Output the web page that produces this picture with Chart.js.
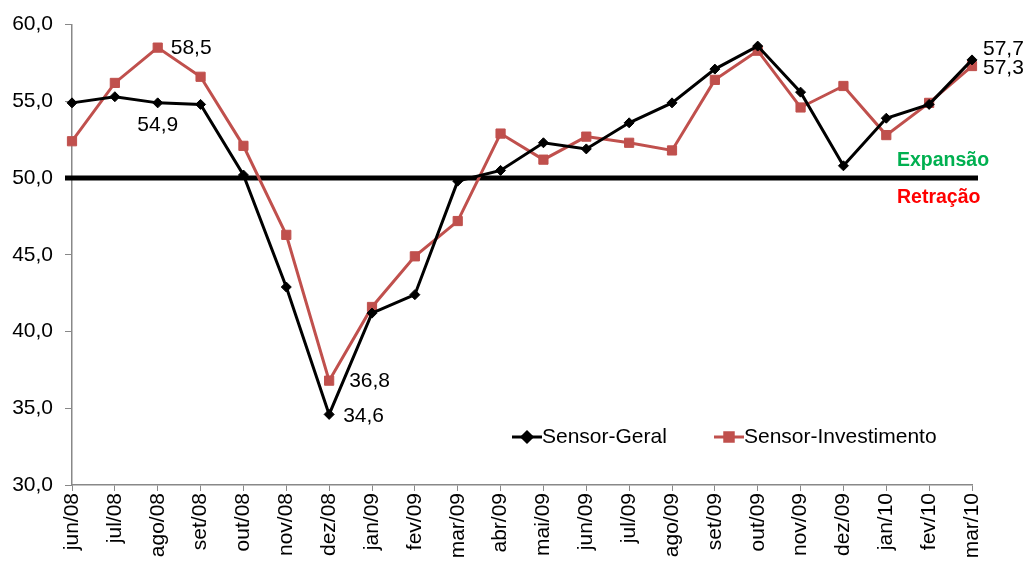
<!DOCTYPE html>
<html>
<head>
<meta charset="utf-8">
<script src="https://cdn.jsdelivr.net/npm/chart.js@4/dist/chart.umd.min.js"></script>
<style>
  body { margin: 0; background: #fff; }
  canvas { display: block; }
</style>
</head>
<body>
<canvas id="sensor" width="1026" height="570"></canvas>
<script>
let meses = ['jun/08','jul/08','ago/08','set/08','out/08','nov/08','dez/08','jan/09','fev/09','mar/09','abr/09',
             'mai/09','jun/09','jul/09','ago/09','set/09','out/09','nov/09','dez/09','jan/10','fev/10','mar/10'];
let sensorGeral = [54.9, 55.3, 54.9, 54.8, 50.2, 42.9, 34.6, 41.2, 42.4, 49.8, 50.5,
                   52.3, 51.9, 53.6, 54.9, 57.1, 58.6, 55.6, 50.8, 53.9, 54.8, 57.7];
let sensorInvest = [52.4, 56.2, 58.5, 56.6, 52.1, 46.3, 36.8, 41.6, 44.9, 47.2, 52.9,
                    51.2, 52.7, 52.3, 51.8, 56.4, 58.3, 54.6, 56.0, 52.8, 54.9, 57.3];
let yTicks = [30, 35, 40, 45, 50, 55, 60];
let limite = 50;

let fonte = '"Liberation Sans", Arial, sans-serif';
let preto = '#000000';
let vermelho = '#c0504d';

function fmt(v){
    return v.toFixed(1).replace('.', ',');
}

// rotulos de valores: [dataset, indice, alinhamento, dx, dy]
let rotulos = [
    [1, 2, 'left', 13, 1],
    [0, 2, 'center', 0, 22],
    [1, 6, 'left', 20, 1],
    [0, 6, 'left', 14, 2],
    [0, 21, 'left', 11, -11],
    [1, 21, 'left', 11, 2]
];

let extras = {
    id: 'extras',
    beforeDatasetsDraw(chart){
        let ctx = chart.ctx;
        let y = chart.scales.y.getPixelForValue(limite);
        let area = chart.chartArea;
        ctx.save();
        ctx.strokeStyle = '#000';
        ctx.lineWidth = 5;
        ctx.beginPath();
        ctx.moveTo(area.left - 7, y);
        ctx.lineTo(area.right + 6, y);
        ctx.stroke();
        ctx.font = 'bold 19.5px ' + fonte;
        ctx.textAlign = 'left';
        ctx.textBaseline = 'middle';
        ctx.fillStyle = '#00b050';
        ctx.fillText('Expansão', area.right - 75, y - 17);
        ctx.fillStyle = '#ff0000';
        ctx.fillText('Retração', area.right - 75, y + 20);
        ctx.restore();
    },
    afterDatasetsDraw(chart){
        let ctx = chart.ctx;
        ctx.save();
        ctx.font = '21px ' + fonte;
        ctx.fillStyle = '#000';
        ctx.textBaseline = 'middle';
        rotulos.forEach(function(r){
            let pt = chart.getDatasetMeta(r[0]).data[r[1]];
            let v = chart.data.datasets[r[0]].data[r[1]];
            ctx.textAlign = r[2];
            ctx.fillText(fmt(v), pt.x + r[3], pt.y + r[4]);
        });
        // legenda
        let area = chart.chartArea;
        let ly = chart.scales.y.getPixelForValue(yTicks[0]) - 48;
        let itens = [
            {x: area.left + 440, cor: preto, estilo: 'rectRot', r: 5, texto: 'Sensor-Geral'},
            {x: area.left + 642, cor: vermelho, estilo: 'rect', r: 6, texto: 'Sensor-Investimento'}
        ];
        ctx.textAlign = 'left';
        itens.forEach(function(it){
            ctx.strokeStyle = it.cor;
            ctx.lineWidth = 3;
            ctx.beginPath();
            ctx.moveTo(it.x, ly);
            ctx.lineTo(it.x + 30, ly);
            ctx.stroke();
            Chart.helpers.drawPoint(ctx, {pointStyle: it.estilo, radius: it.r, borderWidth: 1}, it.x + 15, ly);
            ctx.fillStyle = it.cor;
            ctx.fill();
            ctx.fillStyle = '#000';
            ctx.fillText(it.texto, it.x + 30, ly);
        });
        ctx.restore();
    }
};

window.onload = function(){
    let kaart = document.getElementById('sensor').getContext('2d');
    new Chart(kaart, {
        type: 'line',
        data: {
            labels: meses,
            datasets: [{
                label: 'Sensor-Geral',
                data: sensorGeral,
                borderColor: preto,
                backgroundColor: preto,
                borderWidth: 3,
                pointStyle: 'rectRot',
                pointRadius: 5,
                pointBorderWidth: 1,
                tension: 0
            }, {
                label: 'Sensor-Investimento',
                data: sensorInvest,
                borderColor: vermelho,
                backgroundColor: vermelho,
                borderWidth: 3,
                pointStyle: 'rect',
                pointRadius: 6.5,
                pointBorderWidth: 1,
                tension: 0
            }]
        },
        options: {
            responsive: false,
            animation: false,
            layout: { padding: { top: 23, right: 54, left: 0, bottom: 0 } },
            plugins: {
                legend: { display: false },
                tooltip: { enabled: false }
            },
            scales: {
                x: {
                    offset: false,
                    border: { color: '#888', width: 1.5 },
                    grid: { drawOnChartArea: false, drawTicks: true, tickLength: 6, color: '#888' },
                    ticks: {
                        minRotation: 90, maxRotation: 90, autoSkip: false,
                        color: '#000', padding: 2,
                        font: { family: fonte, size: 21 }
                    },
                    afterFit: function(s){ s.height = 85; }
                },
                y: {
                    min: yTicks[0],
                    max: yTicks[yTicks.length - 1],
                    border: { color: '#888', width: 1.5 },
                    grid: { drawOnChartArea: false, drawTicks: true, tickLength: 7, color: '#888' },
                    afterBuildTicks: function(s){ s.ticks = yTicks.map(function(v){ return {value: v}; }); },
                    ticks: {
                        color: '#000', padding: 12,
                        font: { family: fonte, size: 21 },
                        callback: function(v){ return fmt(v); }
                    },
                    afterFit: function(s){ s.width = 72; }
                }
            }
        },
        plugins: [extras]
    });
};
</script>
</body>
</html>
